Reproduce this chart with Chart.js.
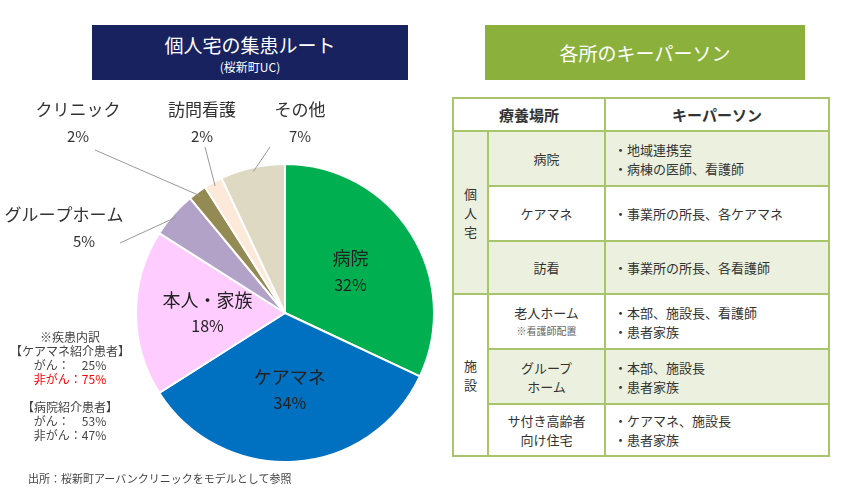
<!DOCTYPE html>
<html><head><meta charset="utf-8">
<script src="https://cdn.jsdelivr.net/npm/chart.js@4.4.0/dist/chart.umd.js"></script>
<style>
body { margin:0; width:850px; height:494px; background:#fff; font-family:"Noto Sans CJK JP",sans-serif; position:relative; overflow:hidden; color:#333; }
.box { position:absolute; color:#fff; text-align:center; }
#wrap { position:absolute; left:0; top:0; width:450px; height:494px; }
.note { position:absolute; font-size:12px; line-height:14px; color:#444; text-align:center; }
table { position:absolute; left:452px; top:97px; border-collapse:collapse; font-size:13px; color:#333; }
td, th { border:2px solid #a9c56c; padding:0; }
th { height:31px; font-size:15px; font-weight:bold; }
.g { background:#ebf1de; }
.c { text-align:center; }
.l { padding-left:8px; line-height:19px; }
</style></head><body>
<div class="box" style="left:92px;top:25px;width:316px;height:55px;background:#17225e;">
  <div style="font-size:19px;margin-top:6px;">個人宅の集患ルート</div>
  <div style="font-size:12px;">(桜新町UC)</div>
</div>
<div class="box" style="left:485px;top:25px;width:320px;height:55px;background:#8bb13c;font-size:19px;line-height:55px;">各所のキーパーソン</div>
<div id="wrap"><canvas id="pie"></canvas></div>
<div class="note" style="left:5px;top:330px;width:130px;">※疾患内訳<br>【ケアマネ紹介患者】<br>がん：　25%<br><span style="color:#f00">非がん：75%</span><br><br>【病院紹介患者】<br>がん：　53%<br>非がん：47%</div>
<div class="note" style="left:28px;top:471px;font-size:11px;">出所：桜新町アーバンクリニックをモデルとして参照</div>
<table>
<tr><th colspan="2" style="width:150px">療養場所</th><th style="width:222px">キーパーソン</th></tr>
<tr class="g" style="height:55px"><td rowspan="3" class="c g" style="width:33px;line-height:19px">個<br>人<br>宅</td><td class="c">病院</td><td class="l">・地域連携室<br>・病棟の医師、看護師</td></tr>
<tr style="height:55px"><td class="c">ケアマネ</td><td class="l">・事業所の所長、各ケアマネ</td></tr>
<tr class="g" style="height:53px"><td class="c">訪看</td><td class="l">・事業所の所長、各看護師</td></tr>
<tr style="height:55px"><td rowspan="3" class="c" style="background:#fff;line-height:19px">施<br>設</td><td class="c" style="line-height:17px">老人ホーム<br><span style="font-size:10px;color:#666">※看護師配置</span></td><td class="l">・本部、施設長、看護師<br>・患者家族</td></tr>
<tr class="g" style="height:55px"><td class="c" style="line-height:19px">グループ<br>ホーム</td><td class="l">・本部、施設長<br>・患者家族</td></tr>
<tr style="height:52px"><td class="c" style="line-height:19px">サ付き高齢者<br>向け住宅</td><td class="l">・ケアマネ、施設長<br>・患者家族</td></tr>
</table>
<script>
const labels = ['病院', 'ケアマネ', '本人・家族', 'グループホーム', 'クリニック', '訪問看護', 'その他'];
const shares = [32, 34, 18, 5, 2, 2, 7];
const colors = ['#00b050', '#0070c0', '#ffccff', '#b3a2c7', '#948a54', '#fde9d9', '#ddd9c3'];

// outside labels: text anchor + leader end
const outside = {
  3: { text: [64, 215], line: [120, 243] },
  4: { text: [78, 110], line: [95, 150] },
  5: { text: [202, 110], line: [205, 147] },
  6: { text: [300, 110], line: [270, 147] },
};

const labelPlugin = {
  id: 'pieLabels',
  afterDatasetsDraw(chart) {
    const ctx = chart.ctx;
    const arcs = chart.getDatasetMeta(0).data;
    ctx.save();
    ctx.textAlign = 'center';
    ctx.textBaseline = 'middle';
    arcs.forEach((arc, i) => {
      const mid = (arc.startAngle + arc.endAngle) / 2;
      const o = outside[i];
      if (o) {
        const r = arc.outerRadius - 4;
        ctx.strokeStyle = '#999';
        ctx.lineWidth = 1;
        ctx.beginPath();
        ctx.moveTo(arc.x + Math.cos(mid) * r, arc.y + Math.sin(mid) * r);
        ctx.lineTo(o.line[0], o.line[1]);
        ctx.stroke();
        ctx.fillStyle = '#333';
        ctx.font = '17px "Noto Sans CJK JP"';
        ctx.fillText(labels[i], o.text[0], o.text[1]);
        ctx.font = '15px "Noto Sans CJK JP"';
        ctx.fillText(shares[i] + '%', o.text[0] + (i === 3 ? 20 : 0), o.text[1] + 26);
      } else {
        const r = arc.outerRadius * 0.52;
        const x = arc.x + Math.cos(mid) * r, y = arc.y + Math.sin(mid) * r;
        ctx.fillStyle = '#222';
        ctx.font = '18px "Noto Sans CJK JP"';
        ctx.fillText(labels[i], x, y - 13);
        ctx.font = '16px "Noto Sans CJK JP"';
        ctx.fillText(shares[i] + '%', x, y + 13);
      }
    });
    ctx.restore();
  },
};

new Chart(document.getElementById('pie'), {
  type: 'pie',
  data: { labels, datasets: [{ data: shares, backgroundColor: colors, borderColor: '#fff', borderWidth: 2 }] },
  options: {
    responsive: true, maintainAspectRatio: false, animation: false,
    layout: { padding: { left: 135, right: 15, top: 163, bottom: 31 } },
    plugins: { legend: { display: false }, tooltip: { enabled: false } },
  },
  plugins: [labelPlugin],
});
</script>
</body></html>
